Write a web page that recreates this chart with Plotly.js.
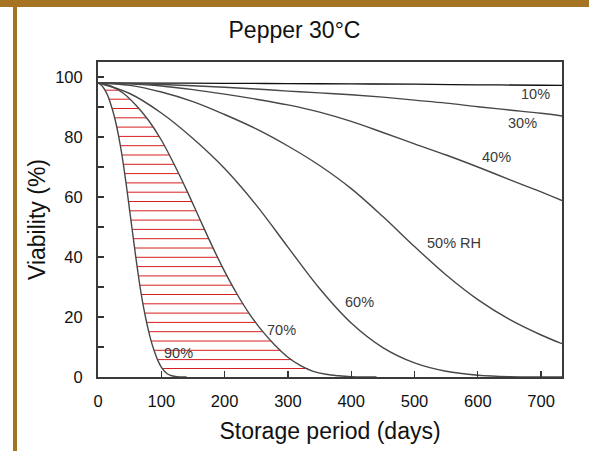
<!DOCTYPE html>
<html>
<head>
<meta charset="utf-8">
<script src="https://cdn.plot.ly/plotly-3.0.1.min.js"></script>
<style>
  html, body { margin: 0; padding: 0; background: #ffffff; }
  #wrap { position: relative; width: 589px; height: 451px; overflow: hidden; background: #ffffff; }
  #chart { position: absolute; left: 0; top: 0; width: 589px; height: 451px; }
  .bar { position: absolute; background: #a47423; }
</style>
</head>
<body>
<div id="wrap">
  <div id="chart"></div>
  <div class="bar" style="left:0;top:0;width:589px;height:7px;"></div>
  <div class="bar" style="left:13px;top:0;width:4px;height:451px;"></div>
</div>
<script>
// ---- Data ----
const rhLabels = ["10%", "30%", "40%", "50% RH", "60%", "70%", "90%"];

const days10 = [0, 100, 200, 300, 400, 500, 600, 700, 733];
const via10  = [98, 97.95, 97.9, 97.8, 97.7, 97.6, 97.4, 97.25, 97.2];

const days30 = [0, 50, 100, 150, 200, 250, 300, 350, 400, 450, 500, 550, 600, 650, 700, 733];
const via30  = [98, 97.8, 97.5, 97.1, 96.6, 96.0, 95.3, 94.7, 94.1, 93.3, 92.3, 91.3, 90.1, 89.0, 87.9, 87.0];

const days40 = [0, 50, 100, 150, 200, 250, 300, 350, 400, 450, 500, 550, 600, 650, 700, 733];
const via40  = [98, 97.7, 97.0, 95.8, 94.3, 92.6, 90.7, 88.3, 85.2, 81.5, 77.7, 74.0, 70.0, 65.8, 61.7, 58.8];

const days50 = [0, 50, 100, 150, 200, 250, 300, 350, 400, 450, 500, 550, 600, 650, 700, 733];
const via50  = [98, 97.2, 95.0, 91.8, 87.5, 82.7, 77.0, 70.5, 62.8, 53.5, 43.5, 34.0, 25.8, 19.2, 14.0, 11.1];

const days60 = [0, 50, 100, 150, 200, 250, 300, 350, 400, 450, 500, 550, 600, 650, 700, 733];
const via60  = [98, 94.5, 88.0, 79.5, 69.5, 57.3, 43.3, 29.5, 18.0, 9.8, 4.7, 1.9, 0.6, 0.1, 0, 0];

const days70 = [0, 20, 40, 60, 80, 100, 120, 140, 160, 180, 200, 220, 240, 260, 280, 300, 320, 340, 360, 380, 400, 420, 440];
const via70  = [98, 97.0, 94.6, 90.6, 85.5, 79.0, 71.0, 62.3, 53.0, 43.8, 35.2, 27.5, 20.8, 15.2, 10.5, 6.6, 3.8, 1.9, 0.9, 0.4, 0.1, 0, 0];

const days90 = [0, 5, 10, 15, 20, 25, 30, 35, 40, 45, 50, 55, 60, 65, 70, 75, 80, 85, 90, 95, 100, 105, 110, 115, 120, 125, 130, 135, 140];
const via90  = [98, 97.3, 96.0, 94.0, 91.0, 87.5, 83.0, 77.5, 71.0, 63.5, 55.5, 47.5, 39.5, 32.0, 25.5, 20.0, 15.2, 11.2, 8.0, 5.3, 3.3, 1.9, 1.0, 0.5, 0.25, 0.1, 0.04, 0, 0];

// Hatch levels (viability %) between the 90% and 70% curves
const hatchLevels = [2.7, 5.8, 8.9, 12.0, 15.1, 18.2, 21.3, 24.4, 27.5, 30.6, 33.7, 36.8, 39.9, 43.0, 46.1,
                     49.2, 52.3, 55.4, 58.5, 61.6, 64.7, 67.8, 70.9, 74.0, 77.1, 80.2, 83.3, 86.4, 89.5, 92.6, 95.6];

const xTicks = [0, 100, 200, 300, 400, 500, 600, 700];
const yTicks = [0, 20, 40, 60, 80, 100];

// Curve-label anchor positions (days, viability)
const labelDays = [691, 670, 629, 563, 413, 290, 127];
const labelVia  = [94.5, 84.7, 73.3, 44.6, 25.0, 15.6, 8.0];

// ---- Build hatch from curve data ----
function dayAtLevel(days, vals, level) {
  for (let i = 0; i < vals.length - 1; i++) {
    if (vals[i] >= level && vals[i + 1] <= level) {
      const t = (vals[i] - level) / (vals[i] - vals[i + 1] || 1);
      return days[i] + t * (days[i + 1] - days[i]);
    }
  }
  return null;
}
const hx = [], hy = [];
hatchLevels.forEach(l => {
  const a = dayAtLevel(days90, via90, l);
  const b = dayAtLevel(days70, via70, l);
  if (a !== null && b !== null) { hx.push(a, b, null); hy.push(l, l, null); }
});

const curveColor = '#474747';
function curve(x, y, color, w) {
  return { x: x, y: y, type: 'scatter', mode: 'lines', hoverinfo: 'skip',
           line: { color: color, width: w, shape: 'spline', smoothing: 1 }, showlegend: false };
}

const traces = [
  { x: hx, y: hy, type: 'scatter', mode: 'lines', hoverinfo: 'skip', showlegend: false,
    line: { color: '#d81e1e', width: 1 } },
  curve(days10, via10, '#111111', 1.3),
  curve(days30, via30, curveColor, 1.4),
  curve(days40, via40, curveColor, 1.4),
  curve(days50, via50, curveColor, 1.4),
  curve(days60, via60, curveColor, 1.4),
  curve(days70, via70, curveColor, 1.4),
  curve(days90, via90, curveColor, 1.4)
];

const font = 'Liberation Sans, Arial, sans-serif';
const annotations = rhLabels.map((t, i) => ({
  x: labelDays[i], y: labelVia[i], xref: 'x', yref: 'y', text: t, showarrow: false,
  xanchor: 'center', yanchor: 'middle', font: { family: font, size: 14.5, color: '#3a3a3a' }
}));

const layout = {
  width: 589, height: 451,
  margin: { l: 98, r: 27, t: 62, b: 74, pad: 0 },
  paper_bgcolor: '#ffffff', plot_bgcolor: '#ffffff',
  font: { family: font, color: '#111111' },
  title: { text: 'Pepper 30°C', xref: 'container', x: 0.5, xanchor: 'center',
           yref: 'container', y: 1 - 30 / 451, yanchor: 'middle',
           font: { family: font, size: 23, color: '#111111' } },
  xaxis: {
    range: [0, 733], tickvals: xTicks, ticktext: xTicks.map(String),
    ticks: 'inside', ticklen: 6, tickwidth: 1.3, tickcolor: '#333333',
    showline: true, mirror: true, linecolor: '#3a3a3a', linewidth: 2,
    showgrid: false, zeroline: false, fixedrange: true,
    tickfont: { family: font, size: 16.5, color: '#111111' }, ticklabelstandoff: 8,
    title: { text: 'Storage period (days)', standoff: 14, font: { family: font, size: 23, color: '#111111' } }
  },
  yaxis: {
    range: [0, 105], tickvals: yTicks, ticktext: yTicks.map(String),
    ticks: 'inside', ticklen: 6, tickwidth: 1.3, tickcolor: '#333333',
    minor: { dtick: 10, tick0: 0, ticks: 'inside', ticklen: 6, tickwidth: 1.3, tickcolor: '#333333', showgrid: false },
    showline: true, mirror: true, linecolor: '#3a3a3a', linewidth: 2,
    showgrid: false, zeroline: false, fixedrange: true,
    tickfont: { family: font, size: 16.5, color: '#111111' }, ticklabelstandoff: 10,
    title: { text: 'Viability (%)', standoff: 3, font: { family: font, size: 23, color: '#111111' } }
  },
  annotations: annotations
};

Plotly.newPlot('chart', traces, layout, { displayModeBar: false, staticPlot: true }).then(gd => {
  const tr = gd.querySelectorAll('.scatterlayer .trace');
  if (tr.length) {
    const p = tr[0].querySelector('path.js-line');
    if (p) p.style.shapeRendering = 'crispEdges';
  }
});
</script>
</body>
</html>
